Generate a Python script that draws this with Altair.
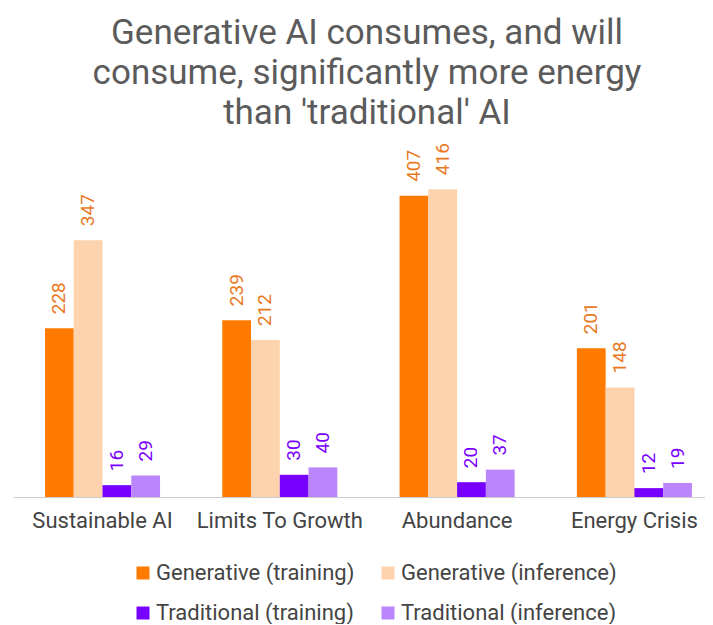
import altair as alt
import pandas as pd

scenarios = ["Sustainable AI", "Limits To Growth", "Abundance", "Energy Crisis"]
series = ["Generative (training)", "Generative (inference)",
          "Traditional (training)", "Traditional (inference)"]
gen_training = [228, 239, 407, 201]
gen_inference = [347, 212, 416, 148]
trad_training = [16, 30, 20, 12]
trad_inference = [29, 40, 37, 19]

bar_colors = ["#FF7B00", "#FDD3AD", "#7700FF", "#BB86FC"]
title_lines = ["Generative AI consumes, and will",
               "consume, significantly more energy",
               "than 'traditional' AI"]

rows = []
for s, vals in zip(series, [gen_training, gen_inference, trad_training, trad_inference]):
    for sc, v in zip(scenarios, vals):
        rows.append({"scenario": sc, "series": s, "value": v})
df = pd.DataFrame(rows)

# legend grid fills column by column, so order the colour domain accordingly
legend_order = [series[0], series[2], series[1], series[3]]
legend_colors = [bar_colors[series.index(s)] for s in legend_order]

FONT = "Roboto"

x_enc = alt.X("scenario:N", sort=scenarios, title=None,
              scale=alt.Scale(paddingInner=0.351, paddingOuter=0.127, align=0.71),
              axis=alt.Axis(labelAngle=0, labelFontSize=22, labelColor="#444444",
                            labelFont=FONT, labelPadding=13, ticks=False,
                            domainColor="#cccccc", domainWidth=1))
xoff_enc = alt.XOffset("series:N", sort=series, scale=alt.Scale(paddingInner=0, paddingOuter=0))
y_enc = alt.Y("value:Q", scale=alt.Scale(domain=[0, 450]), axis=None)

bars = alt.Chart(df).mark_bar().encode(
    x=x_enc,
    xOffset=xoff_enc,
    y=y_enc,
    color=alt.Color("series:N", sort=legend_order,
                    scale=alt.Scale(domain=legend_order, range=legend_colors),
                    legend=alt.Legend(title=None, orient="none", legendX=119, legendY=398,
                                      columns=2,
                                      symbolType="square", symbolSize=169,
                                      symbolStrokeWidth=0,
                                      labelFontSize=22, labelFont=FONT,
                                      labelColor="#444444", labelOffset=2,
                                      columnPadding=22, rowPadding=18,
                                      labelLimit=400)),
)

labels = alt.Chart(df).mark_text(
    angle=270, align="left", baseline="middle", dx=14, fontSize=19, font=FONT
).encode(
    x=alt.X("scenario:N", sort=scenarios),
    xOffset=alt.XOffset("series:N", sort=series),
    y="value:Q",
    text="value:Q",
    color=alt.condition("indexof(datum.series, 'Generative') >= 0",
                        alt.value("#E8791F"), alt.value("#7A00FF")),
)

chart = alt.layer(bars, labels).properties(
    width=692,
    height=333,
    padding={"left": 5, "right": 0, "top": 8, "bottom": 0},
    title=alt.TitleParams(text=title_lines, fontSize=35, font=FONT,
                          fontWeight="normal", color="#5b5b5b",
                          anchor="middle", lineHeight=40, offset=12, dx=8),
).configure_view(stroke=None)

chart.save("out.html", embed_options={"renderer": "svg", "actions": False})
